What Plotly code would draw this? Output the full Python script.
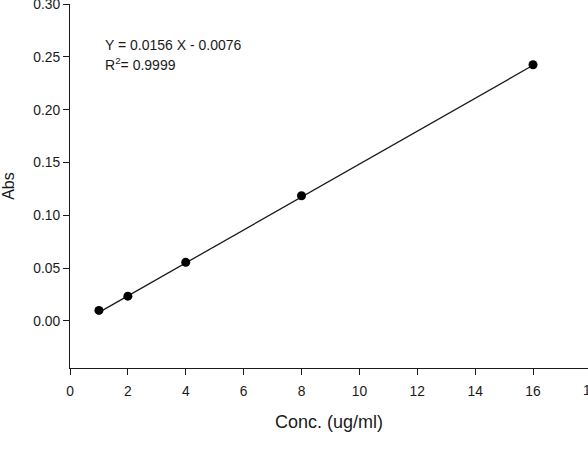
import plotly.graph_objects as go

# Data
conc = [1, 2, 4, 8, 16]
absorbance = [0.0100, 0.0235, 0.0555, 0.1185, 0.2425]
fit_x = [1, 16]
fit_y = [0.0082, 0.2420]
eq_text = "Y = 0.0156 X - 0.0076"
r2_text = "R<sup>2</sup>= 0.9999"

x_ticks = [0, 2, 4, 6, 8, 10, 12, 14, 16, 18]
y_ticks = [0.00, 0.05, 0.10, 0.15, 0.20, 0.25, 0.30]

FONT = "Liberation Sans, Arial, sans-serif"

fig = go.Figure()
fig.add_trace(go.Scatter(x=fit_x, y=fit_y, mode="lines",
                         line=dict(color="#1a1a1a", width=1.3),
                         showlegend=False, hoverinfo="skip"))
fig.add_trace(go.Scatter(x=conc, y=absorbance, mode="markers",
                         marker=dict(color="black", size=9),
                         showlegend=False, cliponaxis=False))

T, B = 4, 85
PH = 453 - T - B
L, PW = 70, 518

fig.update_layout(
    width=588, height=453,
    margin=dict(l=L, r=0, t=T, b=B),
    paper_bgcolor="white", plot_bgcolor="white",
    font=dict(family=FONT, color="#1a1a1a", size=13.8),
    xaxis=dict(range=[0, 17.9], tickvals=x_ticks, ticktext=[str(v) for v in x_ticks],
               showline=True, linecolor="#1a1a1a", linewidth=1.3,
               ticks="outside", ticklen=6, tickcolor="#1a1a1a", tickwidth=1.2,
               ticklabelstandoff=4, automargin=False,
               showgrid=False, zeroline=False,
               title=dict(text="Conc. (ug/ml)", font=dict(size=18), standoff=17)),
    yaxis=dict(range=[-0.0445, 0.30], tickvals=y_ticks, tickformat=".2f",
               showline=True, linecolor="#1a1a1a", linewidth=1.3,
               ticks="outside", ticklen=6, tickcolor="#1a1a1a", tickwidth=1.2,
               ticklabeloverflow="allow", automargin=False,
               showgrid=False, zeroline=False,
               title=dict(text="Abs", font=dict(size=16), standoff=14)),
)

fig.add_annotation(xref="paper", yref="paper", x=(103 - L) / PW, y=(T + PH - 45) / PH,
                   text=eq_text, showarrow=False, xanchor="left", yanchor="middle",
                   font=dict(size=14))
fig.add_annotation(xref="paper", yref="paper", x=(103 - L) / PW, y=(T + PH - 64) / PH,
                   text=r2_text, showarrow=False, xanchor="left", yanchor="middle",
                   font=dict(size=14))
fig.add_annotation(xref="paper", yref="paper", x=(591 - L) / PW, y=-(390 - T - PH) / PH,
                   text="18", showarrow=False, xanchor="center", yanchor="middle",
                   font=dict(size=13.8))

fig.write_html("out.html")
